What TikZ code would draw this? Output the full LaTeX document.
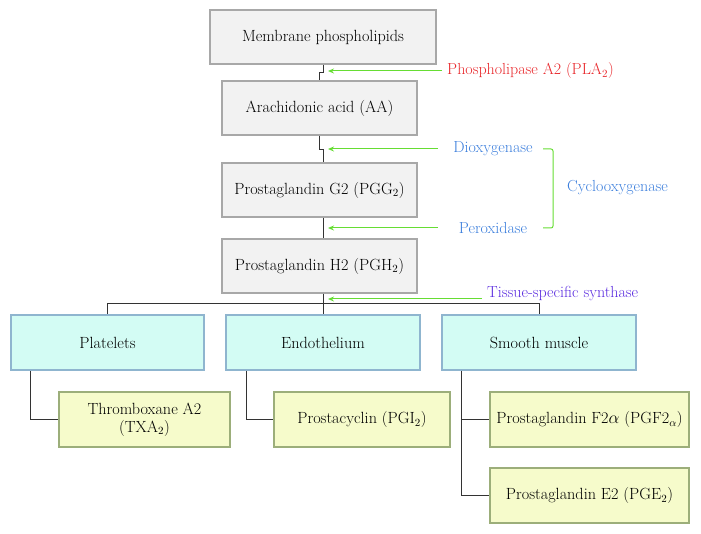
\documentclass[tikz,border=0pt]{standalone}
\usetikzlibrary{arrows.meta,calc}
\definecolor{grayfill}{HTML}{F2F2F2}
\definecolor{grayline}{HTML}{A8A8A8}
\definecolor{cyanfill}{HTML}{D3FCF4}
\definecolor{cyanline}{HTML}{8FB5CF}
\definecolor{yelfill}{HTML}{F6FBCB}
\definecolor{yelline}{HTML}{9CAE7A}
\definecolor{arrgreen}{HTML}{66DD33}
\definecolor{redtxt}{HTML}{E8262A}
\definecolor{bluetxt}{HTML}{3B7EDC}
\definecolor{purptxt}{HTML}{5A2BDF}
\definecolor{conn}{HTML}{333333}
\tikzset{
  box/.style={rectangle, line width=1.2pt, minimum height=54pt, inner sep=2pt, align=center, font=\fontsize{16.2}{18.2}\selectfont},
  graybox/.style={box, draw=grayline, fill=grayfill},
  cyanbox/.style={box, draw=cyanline, fill=cyanfill, minimum height=55pt, line width=1.5pt},
  yelbox/.style={box, draw=yelline, fill=yelfill, minimum height=55pt, line width=1.5pt},
  link/.style={draw=conn, line width=1pt},
  enz/.style={draw=arrgreen, line width=1pt, -{Stealth[length=6pt,width=5pt]}},
  lbl/.style={font=\fontsize{16}{18}\selectfont, inner sep=0pt},
}
\begin{document}
\begin{tikzpicture}[x=1pt,y=-1pt]
\useasboundingbox (0,0) rectangle (701,534);
% main chain
\node[graybox, minimum width=226pt] (mem) at (323,37) {Membrane phospholipids};
\node[graybox, minimum width=195pt] (aa) at (319.5,108) {Arachidonic acid (AA)};
\node[graybox, minimum width=195pt] (pgg) at (319.5,190) {Prostaglandin G2 (PGG$_2$)};
\node[graybox, minimum width=195pt] (pgh) at (319.5,266) {Prostaglandin H2 (PGH$_2$)};
% tissues
\node[cyanbox, minimum width=193pt] (plat) at (107.5,342.5) {Platelets};
\node[cyanbox, minimum width=194pt] (endo) at (323,342.5) {Endothelium};
\node[cyanbox, minimum width=194pt] (smooth) at (539,342.5) {Smooth muscle};
% products
\node[yelbox, minimum width=171pt] (txa) at (144.5,419.5) {Thromboxane A2\\(TXA$_2$)};
\node[yelbox, minimum width=176pt] (pgi) at (362,419.5) {Prostacyclin (PGI$_2$)};
\node[yelbox, minimum width=199pt] (pgf) at (589.5,419.5) {Prostaglandin F2$\alpha$ (PGF2$_\alpha$)};
\node[yelbox, minimum width=199pt] (pge) at (589.5,495.5) {Prostaglandin E2 (PGE$_2$)};
% connectors of the chain
\coordinate (j1a) at ($(mem.south)+(0,8)$);
\draw[link] (mem.south) -- (j1a) -| (aa.north);
\coordinate (j2a) at ($(aa.south)+(0,14)$);
\coordinate (pggtop) at ($(pgg.north)+(3.5,0)$);
\draw[link] (aa.south) -- (j2a) -| (pggtop);
\coordinate (pggbot) at ($(pgg.south)+(3.5,0)$);
\coordinate (pghtop) at ($(pgh.north)+(3.5,0)$);
\draw[link] (pggbot) -- (pghtop);
\coordinate (pghbot) at ($(pgh.south)+(3.5,0)$);
\coordinate (bus) at (323,304);
\draw[link] (pghbot) -- (bus);
\draw[link] (plat.north) -- (plat.north |- bus) -- (smooth.north |- bus) -- (smooth.north);
\draw[link] (bus) -- (endo.north);
% tissue to products
\coordinate (pv) at (30,370);
\draw[link] (plat.south -| pv) |- (txa.west);
\draw[link] (endo.south -| 246,0) |- (pgi.west);
\draw[link] (smooth.south -| 461,0) |- (pgf.west);
\draw[link] (smooth.south -| 461,0) |- (pge.west);
% enzymes
\node[lbl, text=redtxt, anchor=west] (pla) at (447,71) {Phospholipase A2 (PLA$_2$)};
\coordinate (ta) at (328,71);
\draw[enz] (442,71) coordinate (sa) -- (ta);
\node[lbl, text=bluetxt] (dox) at (493,149) {Dioxygenase};
\node[lbl, text=bluetxt] (perox) at (493,228) {Peroxidase};
\coordinate (tb) at (328,149);
\coordinate (tc) at (328,228);
\draw[enz] (438,149) -- (tb);
\draw[enz] (438,228) -- (tc);
\draw[draw=arrgreen, line width=1pt, rounded corners=2pt] (543,149) -- (553,149) -- (553,228) -- (543,228);
\node[lbl, text=bluetxt, anchor=west] (cox) at (567,188) {Cyclooxygenase};
\node[lbl, text=purptxt, anchor=west] (tss) at (487,294) {Tissue-specific synthase};
\coordinate (td) at (328,299);
\draw[enz] (482,299) -- (td);
\end{tikzpicture}
\end{document}
